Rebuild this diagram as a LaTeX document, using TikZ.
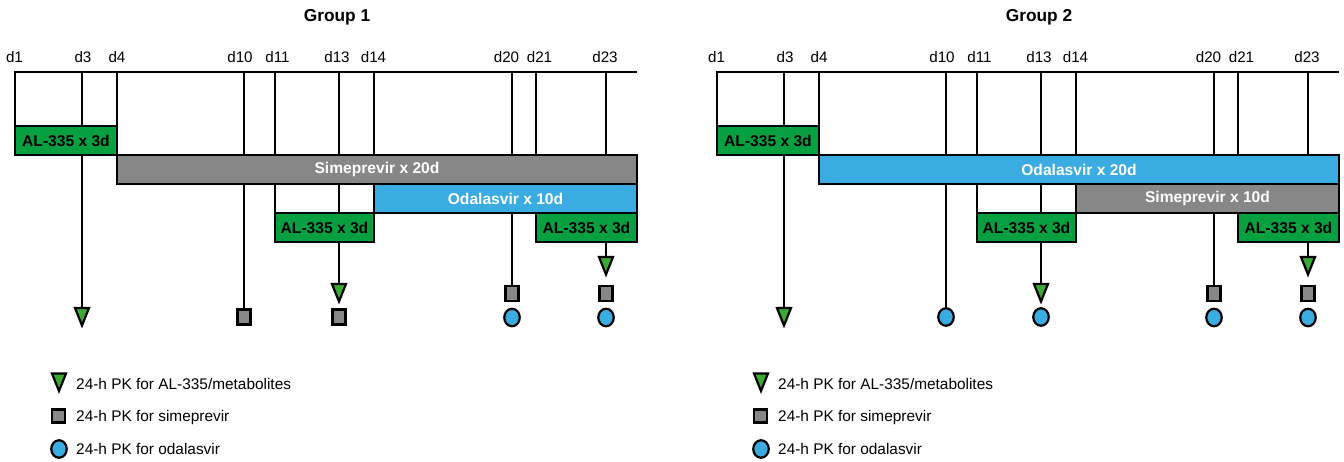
\documentclass[tikz,border=0pt]{standalone}
\usepackage{fontspec}
\setmainfont{Liberation Sans}
\usetikzlibrary{shapes.geometric, backgrounds}
\definecolor{alGreen}{RGB}{6,160,64}
\definecolor{pkGreen}{RGB}{58,170,53}
\definecolor{simGray}{RGB}{135,135,135}
\definecolor{odaBlue}{RGB}{58,172,226}

\begin{document}
\begin{tikzpicture}[x=1pt, y=-1pt,
	line/.style={line width=2.1pt},
	box/.style={draw, rectangle, line width=2.5pt, inner sep=0pt, outer sep=0pt, minimum height=29pt, font=\fontsize{15.6}{18}\selectfont\bfseries},
	alBox/.style={box, fill=alGreen, text=black},
	simBox/.style={box, fill=simGray, text=white},
	odaBox/.style={box, fill=odaBlue, text=white},
	pk/.style={draw, line width=2.2pt, inner sep=0pt, outer sep=0pt},
	pkTri/.style={pk, isosceles triangle, isosceles triangle stretches, shape border rotate=270, minimum width=14pt, minimum height=17.5pt, fill=pkGreen, anchor=apex},
	pkSq/.style={pk, rectangle, minimum width=13pt, minimum height=15pt, fill=simGray},
	pkEll/.style={pk, ellipse, minimum width=15.5pt, minimum height=17.5pt, fill=odaBlue},
	day/.style={font=\fontsize{15.2}{18}\selectfont, anchor=base, inner sep=0pt},
	title/.style={font=\fontsize{17.3}{20}\selectfont\bfseries, anchor=base, inner sep=0pt},
	legend/.style={font=\fontsize{15.4}{18}\selectfont, anchor=base west, inner sep=0pt},
	]
	\useasboundingbox (0,0) rectangle (1344,462);
	
	\foreach \gr/\sh/\longBox/\longText/\shortBox/\shortText/\pkC in {1/0/simBox/Simeprevir x 20d/odaBox/Odalasvir x 10d/pkSq, 2/702/odaBox/Odalasvir x 20d/simBox/Simeprevir x 10d/pkEll}
	{
	\begin{scope}[xshift=\sh pt]
	% days
	\foreach \d/\x in {1/15, 3/82, 4/117, 10/244, 11/275, 13/339, 14/374, 20/512, 21/536, 23/606}
		\coordinate (g\gr t\d) at (\x,72);
	\coordinate (g\gr end) at (637,72);
	\foreach \d/\x in {1/14.5, 3/83, 4/117, 10/240, 11/277.5, 13/337, 14/373.5, 20/506.5, 21/539.5, 23/605}
		\draw node[day] (g\gr d\d) at (\x,62.5) {d\d};
	\draw node[title] (g\gr title) at (337,22) {Group \gr};
	
	% dosing
	\draw node[alBox][minimum width=102pt, anchor=north west] (g\gr al1) at (g\gr t1 |- 0,126) {AL-335 x 3d};
	\draw node[\longBox][minimum width=520pt, anchor=north west] (g\gr long) at (g\gr al1.south east) {\longText};
	\draw node[\shortBox][minimum width=263pt, anchor=north east] (g\gr short) at (g\gr long.south east) {\shortText};
	\draw node[alBox][minimum width=99pt, anchor=north east] (g\gr al2) at (g\gr short.south west) {AL-335 x 3d};
	\draw node[alBox][minimum width=101pt, anchor=north east] (g\gr al3) at (g\gr short.south east) {AL-335 x 3d};
	
	% PK samples
	\draw node[pkTri] (g\gr m3c) at (g\gr t3 |- 0,325.5) {};
	\draw node[\pkC] (g\gr m10c) at (g\gr t10 |- 0,317) {};
	\draw node[pkTri] (g\gr m13b) at (g\gr t13 |- 0,301.5) {};
	\draw node[\pkC] (g\gr m13c) at (g\gr t13 |- 0,317) {};
	\draw node[pkSq] (g\gr m20b) at (g\gr t20 |- 0,293.5) {};
	\draw node[pkEll] (g\gr m20c) at (g\gr t20 |- 0,317.5) {};
	\draw node[pkTri] (g\gr m23a) at (g\gr t23 |- 0,274.5) {};
	\draw node[pkSq] (g\gr m23b) at (g\gr t23 |- 0,293.5) {};
	\draw node[pkEll] (g\gr m23c) at (g\gr t23 |- 0,317.5) {};
	
	% Lines
	\begin{scope}[on background layer]
	\draw[line] (g\gr al1.north west) -- (g\gr t1) -- (g\gr end);
	\draw[line] (g\gr t3) -- (g\gr m3c);
	\draw[line] (g\gr t4) -- (g\gr t4 |- g\gr long.north);
	\draw[line] (g\gr t10) -- (g\gr m10c);
	\draw[line] (g\gr t11) -- (g\gr t11 |- g\gr al2.north);
	\draw[line] (g\gr t13) -- (g\gr m13b);
	\draw[line] (g\gr t14) -- (g\gr t14 |- g\gr short.north);
	\draw[line] (g\gr t20) -- (g\gr m20b);
	\draw[line] (g\gr t21) -- (g\gr t21 |- g\gr al3.north);
	\draw[line] (g\gr t23) -- (g\gr m23a);
	\end{scope}
	
	% legend
	\draw node[pkTri] (g\gr k1) at (59,391) {};
	\draw node[pkSq, minimum height=13pt] (g\gr k2) at (58.5,416) {};
	\draw node[pkEll] (g\gr k3) at (59,449) {};
	\draw node[legend] (g\gr k1t) at (76,389) {24-h PK for AL-335/metabolites};
	\draw node[legend] (g\gr k2t) at (76,421.5) {24-h PK for simeprevir};
	\draw node[legend] (g\gr k3t) at (76,454.5) {24-h PK for odalasvir};
	\end{scope}
	}
\end{tikzpicture}
\end{document}
